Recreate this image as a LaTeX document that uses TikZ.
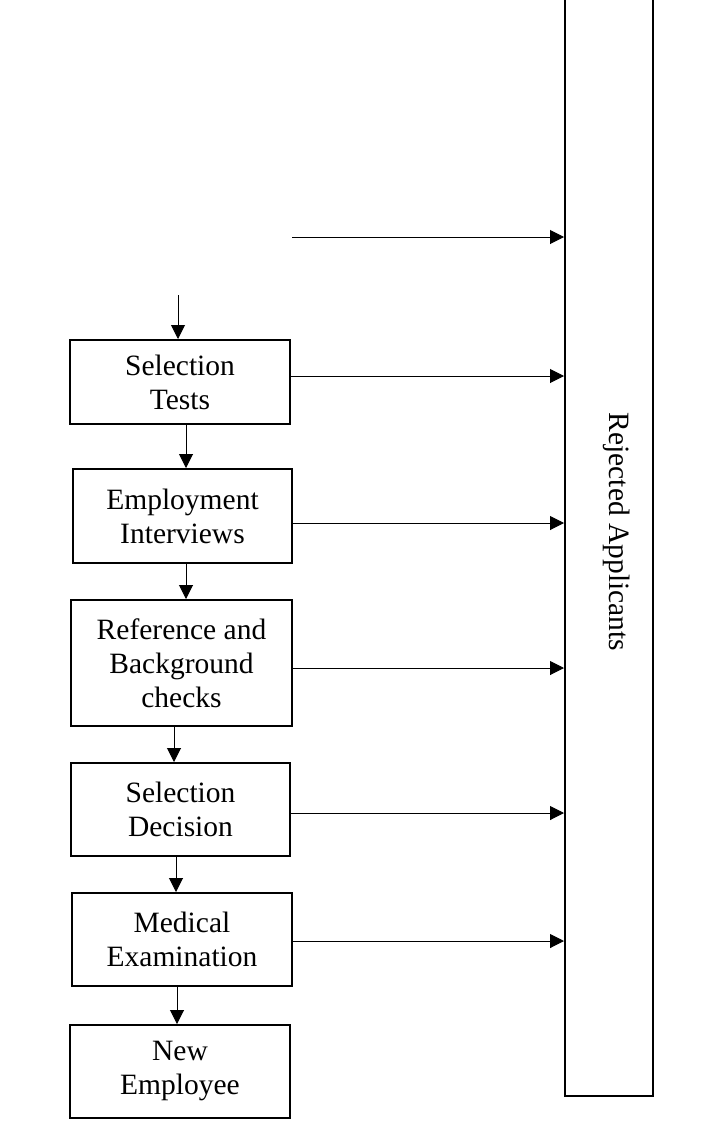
\documentclass[tikz,border=0pt]{standalone}
\usepackage{fontspec}
\setmainfont{Liberation Serif}
\usetikzlibrary{arrows.meta}
\begin{document}
\begin{tikzpicture}[x=1pt,y=-1pt,
  stagebox/.style={draw, line width=2pt, align=center, inner sep=0pt,
    font=\fontsize{29.5}{34}\selectfont},
  flow/.style={line width=1pt, -{Triangle[length=14pt,width=14pt]}},
  rejbox/.style={draw, line width=2pt, minimum width=88pt, minimum height=1101pt, inner sep=0pt},
]
\useasboundingbox (0,0) rectangle (702,1134);

% rejected applicants column
\node[rejbox] (rej) at (609,545.5) {};
\node[rotate=-90, inner sep=0pt, font=\fontsize{29.5}{34}\selectfont] (rejlabel) at (617,532) {Rejected Applicants};

% selection stages
\node[stagebox, minimum width=220pt, minimum height=84pt]  (b1) at (180,382)    {Selection\\Tests};
\node[stagebox, minimum width=219pt, minimum height=94pt]  (b2) at (182.5,516)  {Employment\\Interviews};
\node[stagebox, minimum width=221pt, minimum height=126pt] (b3) at (181.5,663)  {Reference and\\Background\\checks};
\node[stagebox, minimum width=219pt, minimum height=93pt]  (b4) at (180.5,809.5){Selection\\Decision};
\node[stagebox, minimum width=220pt, minimum height=93pt]  (b5) at (182,939.5)  {Medical\\Examination};
\node[stagebox, minimum width=220pt, minimum height=93pt]  (b6) at (180,1071.5) {New\\Employee};

% loose ends of the two incoming arrows
\coordinate (in1) at (178,295);
\coordinate (pre) at (292,237);

% downward flow
\draw[flow] (in1) -- (in1 |- b1.north);
\draw[flow] (b1.south -| 186,0) -- (b2.north -| 186,0);
\draw[flow] (b2.south -| 186,0) -- (b3.north -| 186,0);
\draw[flow] (b3.south -| 174,0) -- (b4.north -| 174,0);
\draw[flow] (b4.south -| 176,0) -- (b5.north -| 176,0);
\draw[flow] (b5.south -| 177,0) -- (b6.north -| 177,0);

% rejections
\draw[flow] (pre) -- (pre -| rej.west);
\draw[flow] (b1.east |- 0,376) -- (rej.west |- 0,376);
\draw[flow] (b2.east |- 0,523) -- (rej.west |- 0,523);
\draw[flow] (b3.east |- 0,668) -- (rej.west |- 0,668);
\draw[flow] (b4.east |- 0,813) -- (rej.west |- 0,813);
\draw[flow] (b5.east |- 0,941) -- (rej.west |- 0,941);
\end{tikzpicture}
\end{document}
